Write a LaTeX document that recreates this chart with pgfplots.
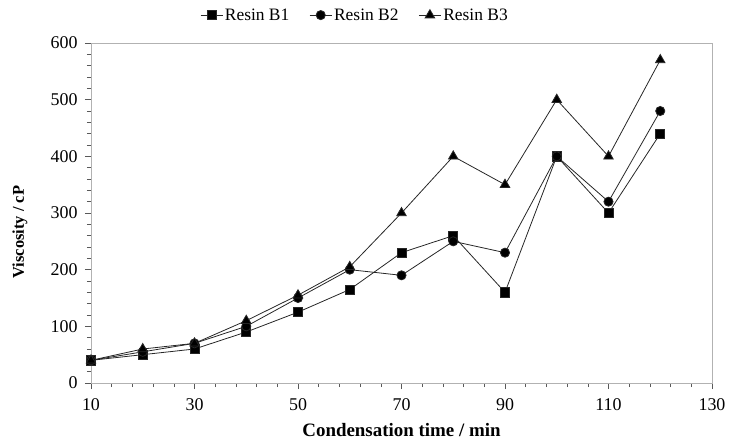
\documentclass[border=0pt]{standalone}
\usepackage{fontspec}
\setmainfont{Liberation Serif}
\usepackage{pgfplots}
\pgfplotsset{compat=1.18}
\begin{document}
\begin{tikzpicture}
\pgfplotstableread{
x b1 b2 b3
10 40 40 40
20 50 55 60
30 60 70 70
40 90 100 110
50 125 150 155
60 165 200 205
70 230 190 300
80 260 250 400
90 160 230 350
100 400 400 500
110 300 320 400
120 440 480 570
}\datatable
\begin{axis}[
  scale only axis,
  width=621bp, height=340bp,
  xmin=10, xmax=130, ymin=0, ymax=600,
  xtick={10,30,...,130}, ytick={0,100,...,600},
  minor x tick num=4, minor y tick num=4,
  xtick pos=bottom, ytick pos=left,
  tick align=outside,
  major tick length=6bp, minor tick length=4bp,
  every tick/.style={gray!70!black, line width=0.6pt},
  axis line style={gray!60, line width=0.8pt},
  /pgf/number format/assume math mode=true,
  ticklabel style={font=\fontsize{18}{20}\selectfont},
  xticklabel style={yshift=-6bp},
  yticklabel style={xshift=-4bp},
  xlabel={Condensation time / min},
  ylabel={Viscosity / cP},
  xlabel style={font=\bfseries\fontsize{19}{21}\selectfont, at={(axis description cs:0.5,0)}, anchor=center, yshift=-47bp},
  ylabel style={font=\bfseries\fontsize{16.5}{18}\selectfont, at={(axis description cs:-0.1143,0.444)}, anchor=center},
  legend style={at={(axis description cs:0.425,1.082)}, anchor=center, draw=none,
    legend columns=3, font=\fontsize{17.5}{19}\selectfont,
    /tikz/every even column/.append style={column sep=18bp}},
  legend image code/.code={
    \draw[#1, mark=none] (0bp,0bp) -- (22bp,0bp);
    \draw[#1, only marks] plot coordinates {(11bp,0bp)};
  },
  every axis plot/.append style={line width=0.8pt, black!85},
]
\addplot[mark=square*, mark size=4.6pt, mark options={fill=black}] table[x=x,y=b1] {\datatable};
\addlegendentry{Resin B1}
\addplot[mark=*, mark size=4.6pt, mark options={fill=black}] table[x=x,y=b2] {\datatable};
\addlegendentry{Resin B2}
\addplot[mark=triangle*, mark size=5.5pt, mark options={fill=black}] table[x=x,y=b3] {\datatable};
\addlegendentry{Resin B3}
\end{axis}
\pgfresetboundingbox
\path[use as bounding box] (-91bp,-58bp) rectangle (639bp,383bp);
\end{tikzpicture}
\end{document}
